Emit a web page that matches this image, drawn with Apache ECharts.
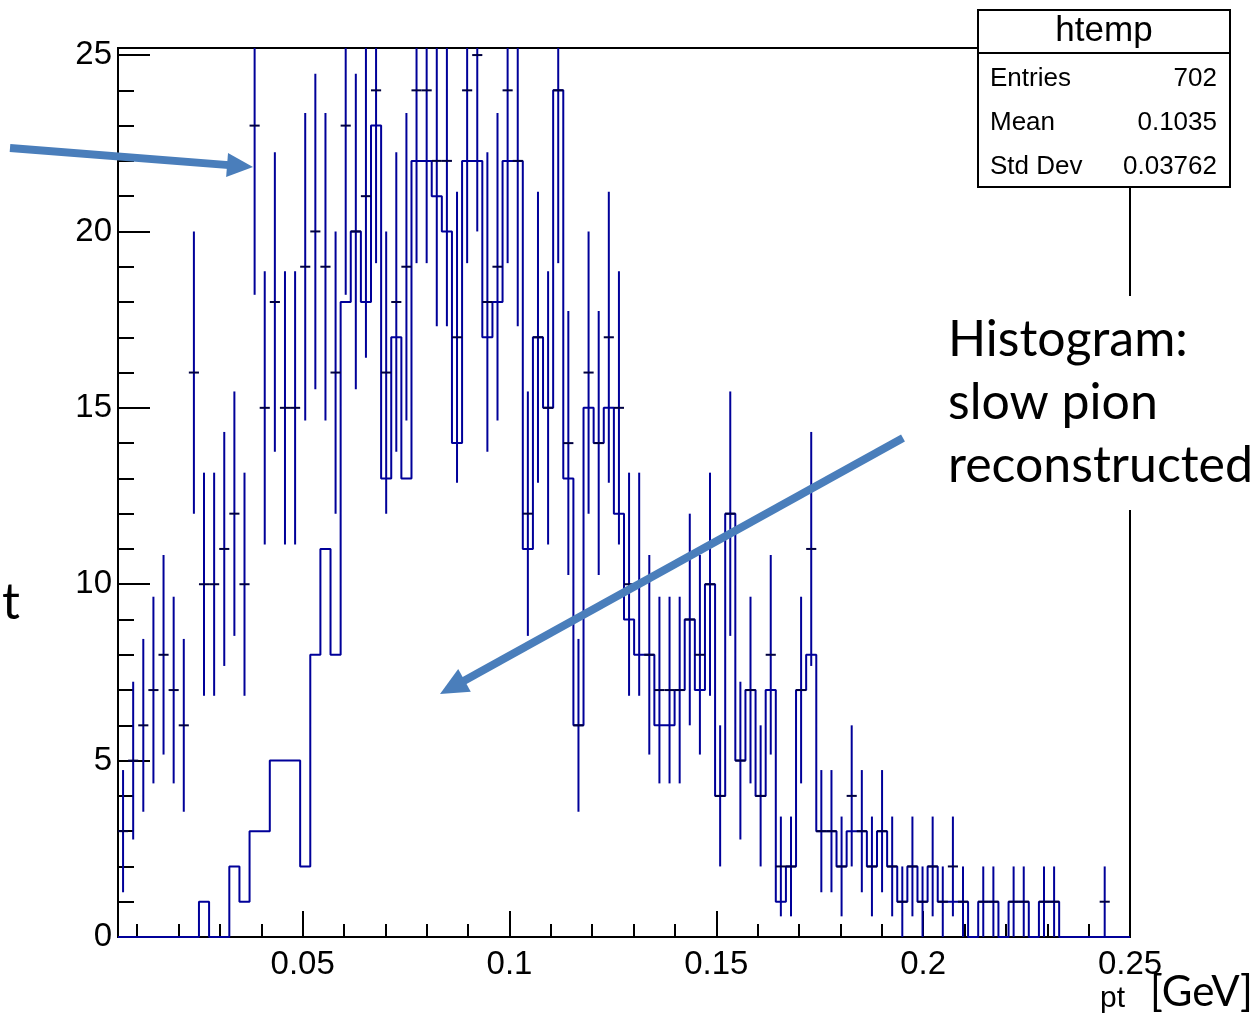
<!DOCTYPE html>
<html>
<head>
<meta charset="utf-8">
<script src="https://cdn.jsdelivr.net/npm/echarts@6/dist/echarts.min.js"></script>
<style>
html, body { margin: 0; padding: 0; background: #fff; }
#chart { width: 1256px; height: 1017px; }
</style>
</head>
<body>
<div id="chart"></div>
<script>
// ROOT htemp: 100 bins
const xMin = 0.00536
const xMax = 0.25
const nBins = 100
const yMax = 25.2

// step histogram (slow pion reconstructed)
const stepCounts = [
  0, 0, 0, 0, 0, 0, 0, 0, 1, 0,
  0, 2, 1, 3, 3, 5, 5, 5, 2, 8,
  11, 8, 18, 20, 18, 23, 13, 17, 13, 22,
  22, 21, 20, 14, 22, 22, 17, 18, 22, 22,
  11, 17, 15, 24, 13, 6, 15, 14, 15, 12,
  9, 8, 8, 6, 6, 7, 9, 7, 10, 4,
  12, 5, 7, 4, 7, 1, 2, 7, 8, 3,
  3, 2, 3, 3, 2, 3, 2, 1, 2, 1,
  2, 1, 1, 1, 0, 1, 1, 0, 1, 1,
  0, 1, 1, 0, 0, 0, 0, 0, 0, 0
]

// points with error bars
const pointCounts = [
  3, 5, 6, 7, 8, 7, 6, 16, 10, 10,
  11, 12, 10, 23, 15, 18, 15, 15, 19, 20,
  19, 16, 23, 20, 21, 24, 16, 18, 19, 24,
  24, 22, 22, 17, 24, 25, 18, 19, 24, 22,
  12, 17, 15, 24, 14, 6, 16, 14, 17, 15,
  10, 10, 8, 7, 7, 7, 9, 8, 10, 4,
  12, 5, 7, 4, 8, 2, 2, 7, 11, 3,
  3, 2, 4, 3, 2, 3, 2, 1, 2, 1,
  2, 1, 2, 1, 0, 1, 1, 0, 1, 1,
  0, 1, 1, 0, 0, 0, 0, 1, 0, 0
]

const xLabelValues = [0.05, 0.1, 0.15, 0.2, 0.25]
const xMinorValues = [0.01, 0.02, 0.03, 0.04, 0.06, 0.07, 0.08, 0.09, 0.11, 0.12, 0.13, 0.14,
  0.16, 0.17, 0.18, 0.19, 0.21, 0.22, 0.23, 0.24]
const yLabelValues = [0, 5, 10, 15, 20, 25]
const yMinorValues = [1, 2, 3, 4, 6, 7, 8, 9, 11, 12, 13, 14, 16, 17, 18, 19, 21, 22, 23, 24]

const statsTitle = 'htemp'
const statsNames = ['Entries', 'Mean', 'Std Dev']
const statsValues = ['702', '0.1035', '0.03762']

const histColor = '#000099'
const crossColor = '#000040'
const arrowColor = '#4a7ebb'
const rootFont = '"Liberation Sans", Arial, sans-serif'
const slideFont = 'Lato, "Open Sans", sans-serif'

const binW = (xMax - xMin) / nBins

let stepData = [[xMin, 0]]
stepCounts.forEach((c, i) => {
  stepData.push([xMin + i * binW, c])
})
stepData.push([xMax, stepCounts[nBins - 1]])
stepData.push([xMax, 0])

let pointData = []
pointCounts.forEach((c, i) => {
  if (c > 0) pointData.push([xMin + (i + 0.5) * binW, c])
})

function renderErr(params, api) {
  const x = api.value(0)
  const v = api.value(1)
  const e = Math.sqrt(v)
  const top = api.coord([x, Math.min(v + e, yMax)])
  const bot = api.coord([x, Math.max(v - e, 0)])
  const l = api.coord([x - binW / 2, v])
  const r = api.coord([x + binW / 2, v])
  let children = [
    { type: 'line', shape: { x1: top[0], y1: top[1], x2: bot[0], y2: bot[1] },
      style: { stroke: histColor, lineWidth: 2 } }
  ]
  if (v <= yMax) {
    children.push({ type: 'line', shape: { x1: l[0], y1: l[1], x2: r[0], y2: r[1] },
      style: { stroke: crossColor, lineWidth: 2 } })
  }
  return { type: 'group', children: children }
}

// arrow made of a thick shaft and a triangular head
function arrow(x1, y1, x2, y2, headLen, headHalf) {
  const dx = x2 - x1, dy = y2 - y1
  const len = Math.sqrt(dx * dx + dy * dy)
  const ux = dx / len, uy = dy / len
  const bx = x2 - ux * headLen, by = y2 - uy * headLen
  return [
    { type: 'polyline', z: 120, shape: { points: [[x1, y1], [bx + ux * 2, by + uy * 2]] },
      style: { stroke: arrowColor, lineWidth: 8, fill: null } },
    { type: 'polygon', z: 121, shape: { points: [[x2, y2], [bx - uy * headHalf, by + ux * headHalf], [bx + uy * headHalf, by - ux * headHalf]] },
      style: { fill: arrowColor } }
  ]
}

let graphics = []
// white patch behind annotation text (hides the frame line)
graphics.push({ type: 'rect', z: 100, shape: { x: 1118, y: 296, width: 24, height: 214 }, style: { fill: '#fff' } })
// stats box
graphics.push({ type: 'rect', z: 100, shape: { x: 978, y: 10, width: 252, height: 177 },
  style: { fill: '#fff', stroke: '#000', lineWidth: 2 } })
graphics.push({ type: 'line', z: 101, shape: { x1: 978, y1: 53, x2: 1230, y2: 53 }, style: { stroke: '#000', lineWidth: 2 } })
graphics.push({ type: 'text', z: 101, x: 1104, y: 31,
  style: { text: statsTitle, font: '35px ' + rootFont, fill: '#000', align: 'center', verticalAlign: 'middle' } })
statsNames.forEach((n, i) => {
  graphics.push({ type: 'text', z: 101, x: 990, y: 79 + i * 44,
    style: { text: n, font: '26px ' + rootFont, fill: '#000', align: 'left', verticalAlign: 'middle' } })
  graphics.push({ type: 'text', z: 101, x: 1217, y: 79 + i * 44,
    style: { text: statsValues[i], font: '26px ' + rootFont, fill: '#000', align: 'right', verticalAlign: 'middle' } })
})
// annotation text
const noteLines = ['Histogram:', 'slow pion', 'reconstructed']
noteLines.forEach((t, i) => {
  graphics.push({ type: 'text', z: 101, x: 948, y: 315 + i * 63,
    style: { text: t, font: '50px ' + slideFont, fill: '#000', align: 'left', verticalAlign: 'top' } })
})
// axis title fragments
graphics.push({ type: 'text', z: 101, x: 2, y: 578,
  style: { text: 't', font: '50px ' + slideFont, fill: '#000', align: 'left', verticalAlign: 'top' } })
graphics.push({ type: 'text', z: 101, x: 1100, y: 984,
  style: { text: 'pt', font: '30px ' + rootFont, fill: '#000', align: 'left', verticalAlign: 'top' } })
graphics.push({ type: 'text', z: 101, x: 1150, y: 971,
  style: { text: '[GeV]', font: '42px ' + slideFont, fill: '#000', align: 'left', verticalAlign: 'top' } })
// arrows
graphics = graphics.concat(arrow(10, 148, 253, 167, 26, 12))
graphics = graphics.concat(arrow(903, 438, 440, 694, 28, 13))

let option = {
  animation: false,
  backgroundColor: '#fff',
  grid: {
    left: 118,
    right: 126,
    top: 48,
    bottom: 80,
    show: true,
    borderColor: '#000',
    borderWidth: 2,
    containLabel: false
  },
  xAxis: [
    {
      type: 'value',
      min: xMin,
      max: xMax,
      axisLine: { show: true, onZero: false, lineStyle: { color: '#000', width: 2 } },
      axisTick: { show: true, inside: true, length: 26, customValues: xLabelValues, lineStyle: { color: '#000', width: 2 } },
      axisLabel: { show: true, customValues: xLabelValues, color: '#000', fontSize: 33, fontFamily: rootFont, margin: 11 },
      splitLine: { show: false }
    },
    {
      type: 'value',
      min: xMin,
      max: xMax,
      position: 'bottom',
      axisLine: { show: false },
      axisTick: { show: true, inside: true, length: 13, customValues: xMinorValues, lineStyle: { color: '#000', width: 2 } },
      axisLabel: { show: false },
      splitLine: { show: false }
    }
  ],
  yAxis: [
    {
      type: 'value',
      min: 0,
      max: yMax,
      axisLine: { show: true, onZero: false, lineStyle: { color: '#000', width: 2 } },
      axisTick: { show: true, inside: true, length: 32, customValues: yLabelValues, lineStyle: { color: '#000', width: 2 } },
      axisLabel: { show: true, customValues: yLabelValues, color: '#000', fontSize: 33, fontFamily: rootFont, margin: 6 },
      splitLine: { show: false }
    },
    {
      type: 'value',
      min: 0,
      max: yMax,
      position: 'left',
      axisLine: { show: false },
      axisTick: { show: true, inside: true, length: 16, customValues: yMinorValues, lineStyle: { color: '#000', width: 2 } },
      axisLabel: { show: false },
      splitLine: { show: false }
    }
  ],
  series: [
    {
      type: 'line',
      step: 'end',
      xAxisIndex: 0,
      yAxisIndex: 0,
      showSymbol: false,
      symbol: 'none',
      lineStyle: { color: histColor, width: 2 },
      data: stepData,
      z: 3
    },
    {
      type: 'custom',
      xAxisIndex: 0,
      yAxisIndex: 0,
      clip: true,
      renderItem: renderErr,
      data: pointData,
      z: 4
    }
  ],
  graphic: graphics
}

let chart = echarts.init(document.getElementById('chart'))
chart.setOption(option)
</script>
</body>
</html>
